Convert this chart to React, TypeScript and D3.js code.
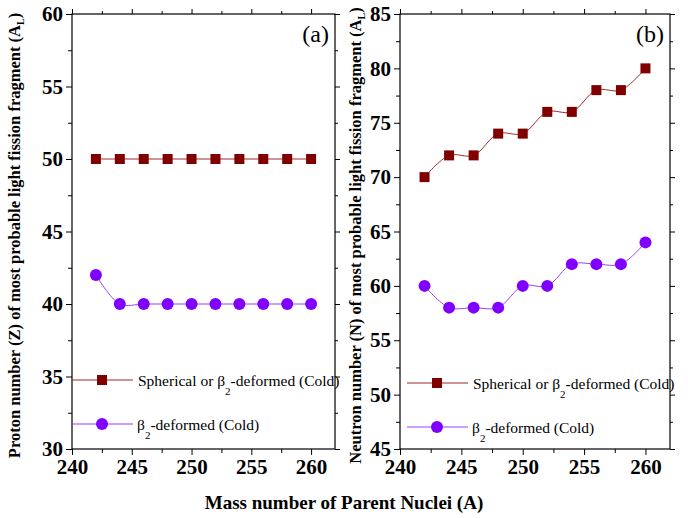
import React, { useEffect, useRef } from "react";
import * as d3 from "d3";

// parent nuclei mass numbers
const massNumbers = [242, 244, 246, 248, 250, 252, 254, 256, 258, 260];
// panel (a): proton number Z of light fragment
const protonSpherical = [50, 50, 50, 50, 50, 50, 50, 50, 50, 50];
const protonDeformed = [42, 40, 40, 40, 40, 40, 40, 40, 40, 40];
// panel (b): neutron number N of light fragment
const neutronSpherical = [70, 72, 72, 74, 74, 76, 76, 78, 78, 80];
const neutronDeformed = [60, 58, 58, 58, 60, 60, 62, 62, 62, 64];

const xTicks = [240, 245, 250, 255, 260];
const yTicksA = [30, 35, 40, 45, 50, 55, 60];
const yTicksB = [45, 50, 55, 60, 65, 70, 75, 80, 85];

const serif = "Liberation Serif, Times New Roman, DejaVu Serif, serif";
const redMark = "#800000";
const redLine = "#9a2a2a";
const purpleMark = "#8000ff";
const purpleLine = "#9a40ff";

function drawPanel(g, opts) {
  const { left, right, top, bottom, yDomain, yTicks, spherical, deformed, tag, legendY1, legendY2, legendX0, yTitle, titleX, titleSym } = opts;
  const x = d3.scaleLinear().domain([240, 262]).range([left, right]);
  const y = d3.scaleLinear().domain(yDomain).range([bottom, top]);

  // frame
  g.append("rect")
    .attr("x", left).attr("y", top)
    .attr("width", right - left).attr("height", bottom - top)
    .attr("fill", "none").attr("stroke", "#000").attr("stroke-width", 1.2);

  const xMinor = d3.range(240, 262.1, 2.5).filter((v) => v % 5 !== 0);
  const yMinor = d3.range(yDomain[0], yDomain[1] + 0.1, 2.5).filter((v) => v % 5 !== 0);

  // bottom axis
  const bx = g.append("g").attr("transform", `translate(0,${bottom})`)
    .call(d3.axisBottom(x).tickValues(xTicks).tickSize(6).tickPadding(4).tickFormat(d3.format("d")));
  bx.select(".domain").remove();
  bx.attr("font-family", serif);
  bx.selectAll("text").style("font-family", serif).style("font-size", "21px").style("font-weight", "bold").attr("fill", "#000");
  g.append("g").attr("transform", `translate(0,${bottom})`)
    .call(d3.axisBottom(x).tickValues(xMinor).tickSize(4).tickFormat(() => ""))
    .select(".domain").remove();
  // top axis
  g.append("g").attr("transform", `translate(0,${top})`)
    .call(d3.axisTop(x).tickValues(xTicks).tickSize(5).tickFormat(() => ""))
    .select(".domain").remove();
  g.append("g").attr("transform", `translate(0,${top})`)
    .call(d3.axisTop(x).tickValues(xMinor).tickSize(3).tickFormat(() => ""))
    .select(".domain").remove();

  // left axis
  const ly = g.append("g").attr("transform", `translate(${left},0)`)
    .call(d3.axisLeft(y).tickValues(yTicks).tickSize(6).tickPadding(3));
  ly.select(".domain").remove();
  ly.attr("font-family", serif);
  ly.selectAll("text").style("font-family", serif).style("font-size", "21px").style("font-weight", "bold").attr("fill", "#000");
  g.append("g").attr("transform", `translate(${left},0)`)
    .call(d3.axisLeft(y).tickValues(yMinor).tickSize(4).tickFormat(() => ""))
    .select(".domain").remove();
  // right axis
  g.append("g").attr("transform", `translate(${right},0)`)
    .call(d3.axisRight(y).tickValues(yTicks).tickSize(5).tickFormat(() => ""))
    .select(".domain").remove();
  g.append("g").attr("transform", `translate(${right},0)`)
    .call(d3.axisRight(y).tickValues(yMinor).tickSize(3).tickFormat(() => ""))
    .select(".domain").remove();

  const line = d3.line().curve(d3.curveCatmullRom.alpha(0.5))
    .x((d) => x(d[0])).y((d) => y(d[1]));

  const sph = massNumbers.map((m, i) => [m, spherical[i]]);
  const def = massNumbers.map((m, i) => [m, deformed[i]]);

  g.append("path").attr("d", line(sph)).attr("fill", "none").attr("stroke", redLine).attr("stroke-width", 1);
  g.append("path").attr("d", line(def)).attr("fill", "none").attr("stroke", purpleLine).attr("stroke-width", 1);

  g.selectAll(".sq").data(sph).join("rect").attr("class", "sq")
    .attr("x", (d) => x(d[0]) - 5).attr("y", (d) => y(d[1]) - 5)
    .attr("width", 10).attr("height", 10).attr("fill", redMark);
  g.selectAll(".ci").data(def).join("circle").attr("class", "ci")
    .attr("cx", (d) => x(d[0])).attr("cy", (d) => y(d[1]))
    .attr("r", 6).attr("fill", purpleMark);

  // panel tag
  g.append("text").attr("x", right - 6).attr("y", top + 28).attr("text-anchor", "end")
    .style("font-family", serif).style("font-size", "24px").text(tag);

  // legend
  g.append("line").attr("x1", legendX0).attr("x2", legendX0 + 61).attr("y1", legendY1).attr("y2", legendY1)
    .attr("stroke", redLine).attr("stroke-width", 1.2);
  g.append("rect").attr("x", legendX0 + 25).attr("y", legendY1 - 5).attr("width", 10).attr("height", 10).attr("fill", redMark);
  const t1 = g.append("text").attr("x", legendX0 + 66).attr("y", legendY1 + 6)
    .style("font-family", serif).style("font-size", "15.5px").attr("fill", "#000");
  t1.append("tspan").text("Spherical or β");
  t1.append("tspan").style("font-size", "11px").attr("dy", 9).text("2");
  t1.append("tspan").attr("dy", -9).text("-deformed (Cold)");

  g.append("line").attr("x1", legendX0).attr("x2", legendX0 + 61).attr("y1", legendY2).attr("y2", legendY2)
    .attr("stroke", purpleLine).attr("stroke-width", 1.2);
  g.append("circle").attr("cx", legendX0 + 30).attr("cy", legendY2).attr("r", 6).attr("fill", purpleMark);
  const t2 = g.append("text").attr("x", legendX0 + 65).attr("y", legendY2 + 6)
    .style("font-family", serif).style("font-size", "15.5px").attr("fill", "#000");
  t2.append("tspan").text("β");
  t2.append("tspan").style("font-size", "11px").attr("dy", 9).text("2");
  t2.append("tspan").attr("dy", -9).text("-deformed (Cold)");

  // y title
  const yt = g.append("text")
    .attr("transform", `translate(${titleX},${(top + bottom) / 2 + 4}) rotate(-90)`)
    .attr("text-anchor", "middle").style("font-family", serif).style("font-size", "16.5px")
    .style("font-weight", "bold").attr("fill", "#000");
  yt.append("tspan").text(`${yTitle} (${titleSym}) of most probable light fission fragment (A`);
  yt.append("tspan").style("font-size", "10px").attr("dy", 4).text("L");
  yt.append("tspan").attr("dy", -4).text(")");
}

export default function App() {
  const ref = useRef(null);

  useEffect(() => {
    const svg = d3.select(ref.current);
    svg.selectAll("*").remove();
    const g = svg.append("g");

    drawPanel(g.append("g"), {
      left: 72, right: 335, top: 14, bottom: 449,
      yDomain: [30, 60], yTicks: yTicksA,
      spherical: protonSpherical, deformed: protonDeformed,
      tag: "(a)", legendY1: 380, legendY2: 424, legendX0: 72,
      yTitle: "Proton number", titleSym: "Z", titleX: 20,
    });
    drawPanel(g.append("g"), {
      left: 400, right: 670, top: 14, bottom: 449,
      yDomain: [45, 85], yTicks: yTicksB,
      spherical: neutronSpherical, deformed: neutronDeformed,
      tag: "(b)", legendY1: 383, legendY2: 427, legendX0: 407,
      yTitle: "Neutron number", titleSym: "N", titleX: 361,
    });

    g.append("text").attr("x", 344).attr("y", 509).attr("text-anchor", "middle")
      .style("font-family", serif).style("font-size", "19px").style("font-weight", "bold")
      .text("Mass number of Parent Nuclei (A)");
  }, []);

  return (
    <svg ref={ref} width={688} height={518} style={{ position: "absolute", left: 0, top: 0, background: "#fff" }} />
  );
}
